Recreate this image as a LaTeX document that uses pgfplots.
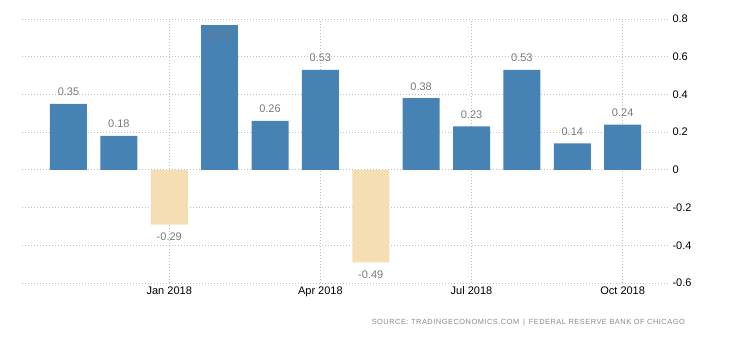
\documentclass[border=0pt]{standalone}
\usepackage{pgfplots}
\pgfplotsset{compat=1.18}
\usepackage{fontspec}
\setmainfont{Liberation Sans}
\definecolor{barblue}{HTML}{4682B4}
\definecolor{barneg}{HTML}{F5DEB3}
\definecolor{lblgray}{HTML}{787878}
\definecolor{srcgray}{HTML}{8A8A8A}
\begin{document}
\begin{tikzpicture}[x=1pt,y=1pt]
\path[use as bounding box] (-22,-57) rectangle (708,283);
\begin{axis}[
  at={(0,0)}, anchor=south west, scale only axis,
  width=646pt, height=264pt,
  xmin=-0.923, xmax=11.9, ymin=-0.6, ymax=0.8,
  axis line style={draw=none},
  major tick length=0pt,
  ytick={-0.6,-0.4,-0.2,0,0.2,0.4,0.6,0.8},
  yticklabel pos=right,
  yticklabel style={xshift=1pt},
  xtick={2,5,8,11},
  xticklabels={Jan 2018,Apr 2018,Jul 2018,Oct 2018},
  xmajorgrids, ymajorgrids,
  grid style={color=black!25, dash pattern=on 1pt off 2pt, line width=0.8pt},
  tick label style={font=\fontsize{11}{13}\selectfont, text=black},
  /pgf/number format/assume math mode=true,
  ybar, bar width=37pt,
  clip=false,
]
\addplot[fill=barblue, draw=none, bar shift=0pt,
  nodes near coords, point meta=explicit symbolic,
  every node near coord/.append style={font=\fontsize{11}{13}\selectfont, text=lblgray, anchor=south, yshift=4.5pt}]
  table[meta=l] {
x y l
0 0.35 0.35
1 0.18 0.18
4 0.26 0.26
5 0.53 0.53
7 0.38 0.38
8 0.23 0.23
9 0.53 0.53
10 0.14 0.14
11 0.24 0.24
};
\addplot[fill=barblue, draw=none, bar shift=0pt,
  nodes near coords, point meta=explicit symbolic,
  every node near coord/.append style={font=\fontsize{11}{13}\selectfont, text=lblgray, anchor=north, yshift=-4pt}]
  table[meta=l] {
x y l
3 0.77 0.77
};
\addplot[fill=barneg, draw=none, bar shift=0pt,
  nodes near coords, point meta=explicit symbolic,
  every node near coord/.append style={font=\fontsize{11}{13}\selectfont, text=lblgray, anchor=north, yshift=-5pt}]
  table[meta=l] {
x y l
2 -0.29 -0.29
6 -0.49 -0.49
};
\end{axis}
\node[anchor=east, inner sep=0pt, text=srcgray, font=\fontsize{7.4}{9}\selectfont\addfontfeature{LetterSpace=7}] at (663,-40) {SOURCE: TRADINGECONOMICS.COM \,|\, FEDERAL RESERVE BANK OF CHICAGO};
\end{tikzpicture}
\end{document}
